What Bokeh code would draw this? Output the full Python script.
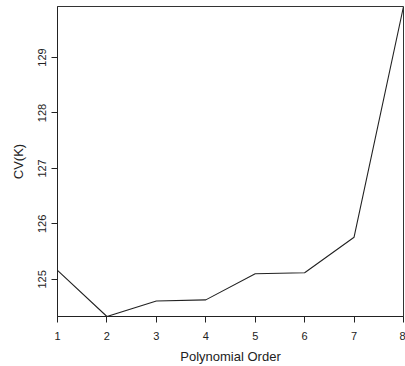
from bokeh.plotting import figure
from bokeh.models import FixedTicker, Range1d
from bokeh.embed import file_html
from bokeh.resources import INLINE

# Cross-validation error by polynomial order
order = [1, 2, 3, 4, 5, 6, 7, 8]
cv_k = [125.16, 124.33, 124.61, 124.63, 125.10, 125.12, 125.76, 129.92]
x_ticks = [1, 2, 3, 4, 5, 6, 7, 8]
y_ticks = [125, 126, 127, 128, 129]

FONT = "Liberation Sans"

p = figure(
    width=405, height=366,
    output_backend="svg", toolbar_location=None,
    x_range=Range1d(min(order), max(order)),
    y_range=Range1d(min(cv_k), max(cv_k)),
    min_border_left=57, min_border_right=2,
    min_border_top=6, min_border_bottom=50,
)

p.line(order, cv_k, line_color="#222222", line_width=1.1)

p.grid.visible = False
p.outline_line_color = "#333333"
p.outline_line_width = 1
p.background_fill_color = "white"
p.border_fill_color = "white"

for ax in (p.xaxis[0], p.yaxis[0]):
    ax.axis_line_color = "#222222"
    ax.major_tick_line_color = "#222222"
    ax.major_tick_out = 6
    ax.major_tick_in = 0
    ax.minor_tick_line_color = None
    ax.major_label_text_font = FONT
    ax.major_label_text_font_size = "11px"
    ax.major_label_text_color = "#222222"
    ax.axis_label_text_font = FONT
    ax.axis_label_text_font_size = "13px"
    ax.axis_label_text_font_style = "normal"
    ax.axis_label_text_color = "#222222"

p.xaxis.ticker = FixedTicker(ticks=x_ticks)
p.yaxis.ticker = FixedTicker(ticks=y_ticks)
p.xaxis.axis_label = "Polynomial Order"
p.yaxis.axis_label = "CV(K)"
p.yaxis.major_label_orientation = "vertical"
p.xaxis.major_label_standoff = 9
p.yaxis.major_label_standoff = 5
p.xaxis.axis_label_standoff = 6
p.yaxis.axis_label_standoff = 10

open("out.html", "w").write(file_html(p, INLINE))
